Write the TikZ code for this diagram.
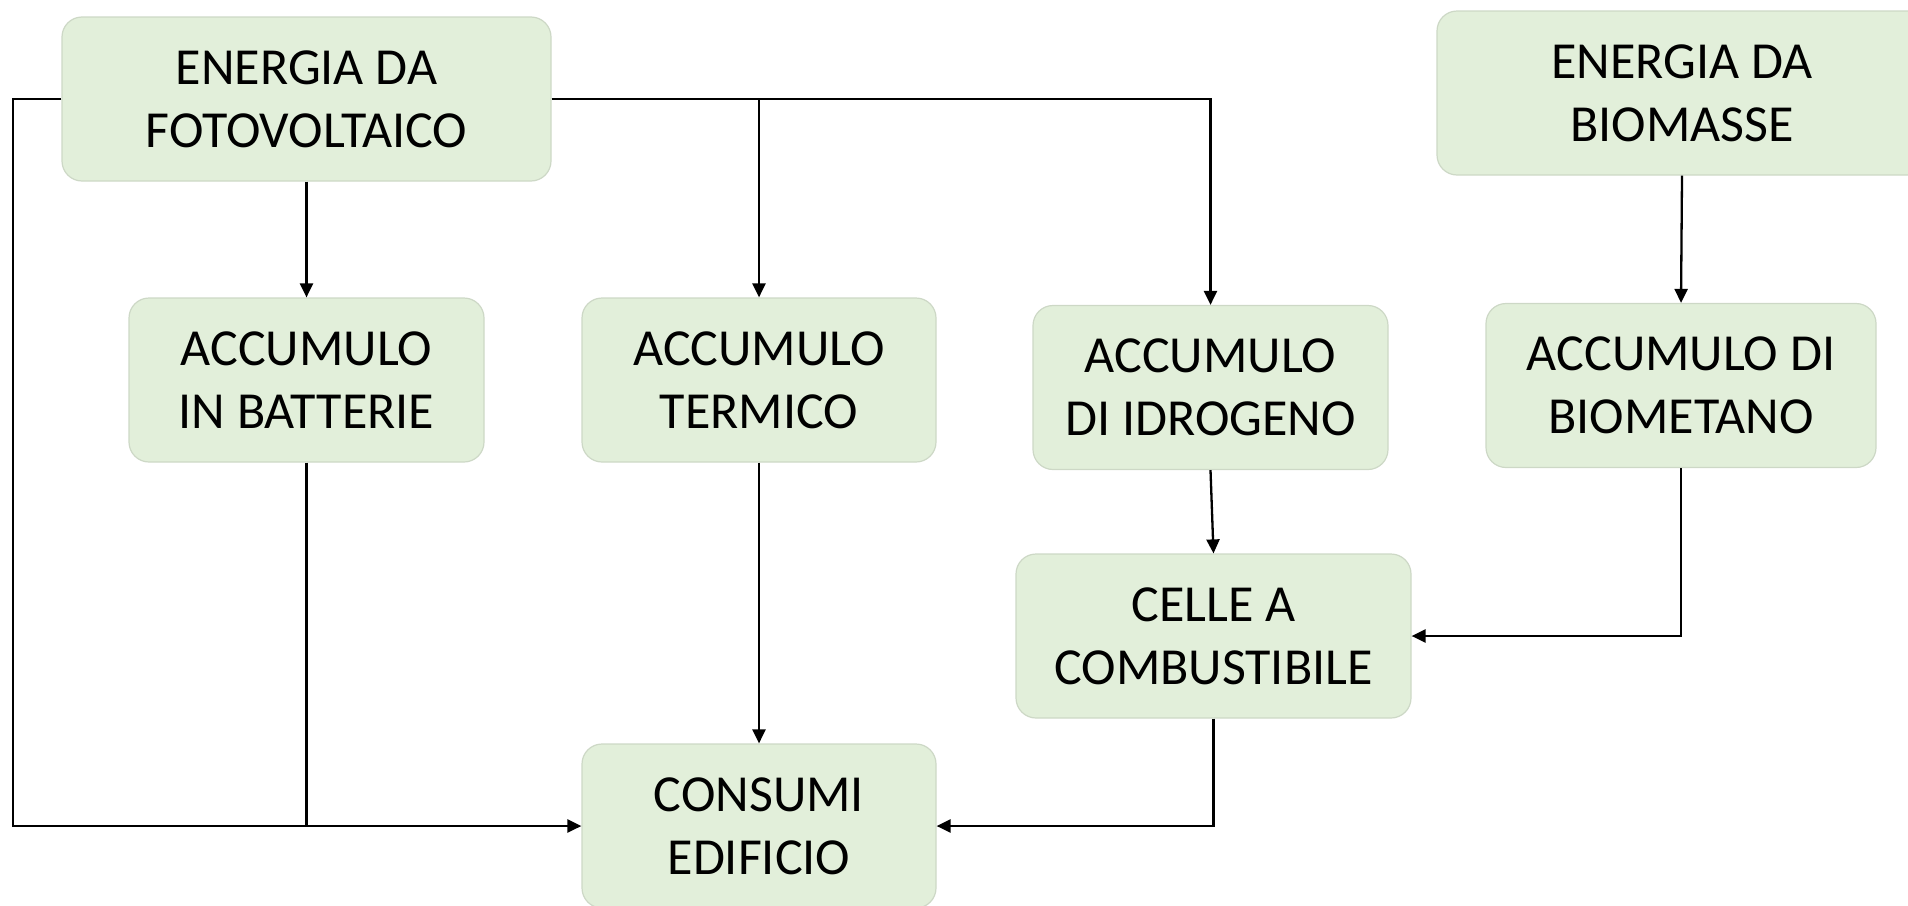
\documentclass[tikz,border=0pt]{standalone}
\usepackage{fontspec}
\setmainfont{Carlito}
\usetikzlibrary{arrows.meta}
\definecolor{boxfill}{HTML}{E2EFDA}
\definecolor{boxline}{HTML}{CDD8C6}
\begin{document}
\begin{tikzpicture}[x=1pt,y=-1pt,
  box/.style={draw=boxline,line width=1.2pt,fill=boxfill,rounded corners=20pt,
    minimum height=164pt,align=center,inner sep=0pt,
    font=\fontsize{52}{63}\selectfont},
  conn/.style={line width=2.3pt,black},
  arr/.style={conn,-{Triangle[width=13pt,length=14pt]}}]
\useasboundingbox (0,0) rectangle (1908,905);
\clip (0,0) rectangle (1908,905);
\node[box,minimum width=489pt] (fv) at (306.5,99) {ENERGIA DA\\FOTOVOLTAICO};
\node[box,minimum width=490pt] (bm) at (1682,93) {ENERGIA DA\\BIOMASSE};
\node[box,minimum width=355pt] (batt) at (306.5,380) {ACCUMULO\\IN BATTERIE};
\node[box,minimum width=354pt] (term) at (759,380) {ACCUMULO\\TERMICO};
\node[box,minimum width=355pt] (idro) at (1210.5,387.5) {ACCUMULO\\DI IDROGENO};
\node[box,minimum width=390pt] (biomet) at (1681,385.5) {ACCUMULO DI\\BIOMETANO};
\node[box,minimum width=395pt] (celle) at (1213.5,636) {CELLE A\\COMBUSTIBILE};
\node[box,minimum width=354pt] (cons) at (759,826) {CONSUMI\\EDIFICIO};
\coordinate (lft) at (13,826);
\coordinate (j1) at (term.north |- fv.east);
\draw[arr] (fv.west) -| (lft) -- (cons.west);
\draw[conn] (batt.south) -- (batt.south |- cons.west);
\draw[arr] (fv.south) -- (batt.north);
\draw[arr] (fv.east) -| (idro.north);
\draw[arr] (j1) -- (term.north);
\draw[arr] (term.south) -- (cons.north);
\draw[arr] (idro.south) -- (celle.north);
\draw[arr] (biomet.south) |- (celle.east);
\draw[arr] (celle.south) |- (cons.east);
\draw[arr] (bm.south) -- (biomet.north);
\end{tikzpicture}
\end{document}
